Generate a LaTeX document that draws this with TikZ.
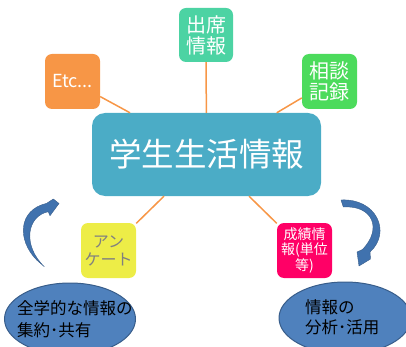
\documentclass[tikz,border=0pt]{standalone}
\usepackage{fontspec}
\setmainfont{Noto Sans CJK JP}
\usetikzlibrary{arrows.meta,shapes.geometric}
\definecolor{mainblue}{HTML}{4BACC6}
\definecolor{teal}{HTML}{4CD3A3}
\definecolor{orng}{HTML}{F79646}
\definecolor{grn}{HTML}{4CDB5C}
\definecolor{yel}{HTML}{EDED47}
\definecolor{pnk}{HTML}{FF0066}
\definecolor{ellfill}{HTML}{4F81BD}
\definecolor{elldraw}{HTML}{385D8A}
\definecolor{arrowblue}{HTML}{4072AE}
\tikzset{
  smallbox/.style={rounded corners=7pt, minimum width=55pt, minimum height=55pt, inner sep=0pt, align=center, text=white},
  link/.style={draw=orng, line width=1.5pt},
  ell/.style={ellipse, fill=ellfill, draw=elldraw, line width=1pt},
  bigarrow/.style={fill=arrowblue, draw=elldraw, line width=0.4pt, line join=round},
}
\begin{document}
\begin{tikzpicture}[x=1pt,y=-1pt]
\useasboundingbox (0,0) rectangle (406,347);
\clip (0,0) rectangle (406,347);
% central
\node[fill=mainblue, rounded corners=13pt, minimum width=229pt, minimum height=83pt, inner sep=0pt, text=white, font=\fontsize{32.5}{36}\selectfont] (main) at (206.5,154.5) {学生生活情報};
% small boxes
\node[smallbox, fill=teal, minimum width=54pt, minimum height=54pt, font=\fontsize{20}{21}\selectfont] (att) at (206,35) {出席\\情報};
\node[smallbox, fill=orng, font=\fontsize{18}{21}\selectfont] (etc) at (72.5,81.5) {Etc...};
\node[smallbox, fill=grn, font=\fontsize{20}{21}\selectfont] (cons) at (329.5,81.5) {相談\\記録};
\node[smallbox, fill=yel, text=black!50, font=\fontsize{16}{18}\selectfont] (enq) at (108.5,250.5) {アン\\ケート};
\node[smallbox, fill=pnk, font=\fontsize{14}{14.5}\selectfont] (grade) at (304.5,250.5) {成績情\\報(単位\\等)};
% connectors
\draw[link] (att) -- (main);
\draw[link] (etc) -- (main);
\draw[link] (cons) -- (main);
\draw[link] (enq) -- (main);
\draw[link] (grade) -- (main);
% ellipses
\node[ell, minimum width=131pt, minimum height=72pt] (share) at (70,319) {};
\node[anchor=west, align=left, font=\fontsize{16.5}{22}\selectfont, inner sep=0pt] (sharetxt) at (17,319) {全学的な情報の\\集約･共有};
\node[ell, minimum width=132pt, minimum height=72pt] (use) at (345,318) {};
\node[anchor=west, align=left, font=\fontsize{16.5}{20}\selectfont, inner sep=0pt] (usetxt) at (305,317) {情報の\\分析･活用};
% curved block arrows
\filldraw[bigarrow] (36.7,260) .. controls (17,240) and (18,210) .. (46.7,203.3)
  -- (53.3,199) -- (59,203.5) -- (50,215.7) -- (48.3,211.7)
  .. controls (27,216) and (22,245) .. (44.3,266.7) -- cycle;
\filldraw[bigarrow] (341,200) .. controls (376,198) and (392,232) .. (370,252)
  -- (370.5,259) -- (359,266) -- (357,252) -- (362.5,249.5)
  .. controls (383,228) and (372,205) .. (343.3,207) -- cycle;
\end{tikzpicture}
\end{document}
